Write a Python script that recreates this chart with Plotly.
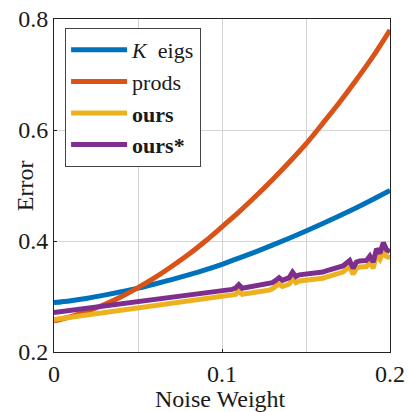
import plotly.graph_objects as go

# ---- data ----
x_smooth = [0.00, 0.01, 0.02, 0.03, 0.04, 0.05, 0.06, 0.07, 0.08, 0.09, 0.10,
            0.11, 0.12, 0.13, 0.14, 0.15, 0.16, 0.17, 0.18, 0.19, 0.20]
k_eigs = [0.289, 0.2925, 0.297, 0.3025, 0.3085, 0.315, 0.3225, 0.3305, 0.339, 0.348, 0.358,
          0.3690, 0.3805, 0.3925, 0.405, 0.418, 0.4314, 0.4454, 0.460, 0.4752, 0.491]
prods = [0.256, 0.2635, 0.2735, 0.2855, 0.2995, 0.3160, 0.3340, 0.3540, 0.3755, 0.3995, 0.4255,
         0.4520, 0.4805, 0.5105, 0.5420, 0.5750, 0.6120, 0.6500, 0.6905, 0.7330, 0.7800]

x_noisy = [0.00, 0.01, 0.02, 0.03, 0.04, 0.05, 0.06, 0.07, 0.08, 0.09, 0.10,
           0.102, 0.104, 0.106, 0.108, 0.110, 0.112, 0.114, 0.116, 0.118, 0.120,
           0.122, 0.124, 0.126, 0.128, 0.130, 0.132, 0.134, 0.136, 0.138, 0.140,
           0.142, 0.144, 0.146, 0.148, 0.150, 0.152, 0.154, 0.156, 0.158, 0.160,
           0.162, 0.164, 0.166, 0.168, 0.170, 0.172, 0.174, 0.176, 0.178, 0.180,
           0.182, 0.184, 0.186, 0.188, 0.190, 0.192, 0.194, 0.196, 0.198, 0.200]
ours = [0.2585, 0.2625, 0.2665, 0.2706, 0.2746, 0.2787, 0.2828, 0.2868, 0.2909, 0.2949, 0.2990,
        0.2998, 0.3006, 0.3016, 0.3036, 0.3100, 0.3040, 0.3050, 0.3058, 0.3066, 0.3075,
        0.3083, 0.3092, 0.3102, 0.3115, 0.3140, 0.3180, 0.3225, 0.3180, 0.3200, 0.3225,
        0.3320, 0.3250, 0.3280, 0.3285, 0.3290, 0.3290, 0.3295, 0.3305, 0.3315, 0.3330,
        0.3350, 0.3370, 0.3400, 0.3410, 0.3425, 0.3440, 0.3490, 0.3540, 0.3400, 0.3510,
        0.3530, 0.3530, 0.3540, 0.3620, 0.3510, 0.3750, 0.3670, 0.3800, 0.3720, 0.3700]
ours_star = [0.2710, 0.2748, 0.2787, 0.2826, 0.2865, 0.2900, 0.2937, 0.2976, 0.3016, 0.3057, 0.3100,
             0.3110, 0.3118, 0.3128, 0.3150, 0.3215, 0.3150, 0.3160, 0.3168, 0.3176, 0.3185,
             0.3193, 0.3202, 0.3212, 0.3225, 0.3250, 0.3290, 0.3340, 0.3290, 0.3310, 0.3340,
             0.3440, 0.3360, 0.3390, 0.3395, 0.3400, 0.3400, 0.3405, 0.3415, 0.3425, 0.3440,
             0.3460, 0.3480, 0.3510, 0.3520, 0.3535, 0.3550, 0.3600, 0.3650, 0.3510, 0.3620,
             0.3640, 0.3640, 0.3650, 0.3730, 0.3620, 0.3860, 0.3780, 0.3970, 0.3840, 0.3810]

names = ["<i>K</i>  eigs", "prods", "<b>ours</b>", "<b>ours*</b>"]
colors = ["#0072BD", "#D95319", "#EDB120", "#7E2F8E"]
x_title = "Noise Weight"
y_title = "Error"

FONT = "Liberation Serif"
TXT = "#1a1a1a"

fig = go.Figure()
fig.add_trace(go.Scatter(x=x_smooth, y=k_eigs, mode="lines", name=names[0],
                         line=dict(color=colors[0], width=5, shape="spline")))
fig.add_trace(go.Scatter(x=x_smooth, y=prods, mode="lines", name=names[1],
                         line=dict(color=colors[1], width=5, shape="spline")))
fig.add_trace(go.Scatter(x=x_noisy, y=ours, mode="lines", name=names[2],
                         line=dict(color=colors[2], width=5)))
fig.add_trace(go.Scatter(x=x_noisy, y=ours_star, mode="lines", name=names[3],
                         line=dict(color=colors[3], width=5)))

axis_common = dict(
    showline=True, linecolor="#222", linewidth=1, mirror=True,
    gridcolor="#d4d4d4", gridwidth=1, zeroline=False,
    ticks="inside", ticklen=3, tickcolor="#222",
    tickfont=dict(family=FONT, size=24, color=TXT),
    ticklabeloverflow="allow",
    automargin=False,
)

fig.update_layout(
    width=409, height=412,
    margin=dict(l=54, r=19, t=19, b=60),
    paper_bgcolor="white", plot_bgcolor="white",
    font=dict(family=FONT, size=24, color=TXT),
    showlegend=True,
    legend=dict(
        x=0.033, y=0.973, xanchor="left", yanchor="top",
        bgcolor="white", bordercolor="#444444", borderwidth=1,
        font=dict(family=FONT, size=22, color=TXT),
        itemwidth=56, tracegroupgap=0,
    ),
    xaxis=dict(range=[0, 0.2], dtick=0.1, tick0=0,
               minor=dict(dtick=0.05, showgrid=True, gridcolor="#d4d4d4", ticks=""),
               **axis_common),
    yaxis=dict(range=[0.2, 0.8], dtick=0.2, tick0=0.2,
               **axis_common),
    annotations=[
        dict(text=x_title, xref="paper", yref="paper", x=0.497, y=-0.142,
             xanchor="center", yanchor="middle", showarrow=False,
             font=dict(family=FONT, size=24, color=TXT)),
        dict(text=y_title, xref="paper", yref="paper", x=-0.087, y=0.5,
             xanchor="center", yanchor="middle", showarrow=False, textangle=-90,
             font=dict(family=FONT, size=24, color=TXT)),
    ],
)

# remove the browser's default 8px page margin so the figure fills the window
fig.write_html("out.html", config={"displayModeBar": False},
               post_script="document.body.style.margin='0';")
